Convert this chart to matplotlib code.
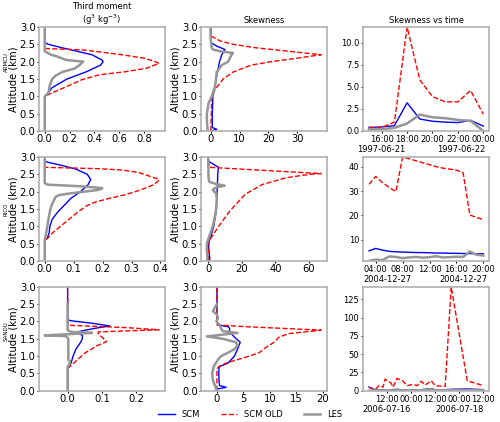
import numpy as np
import pandas as pd
import matplotlib
matplotlib.use('Agg')
import matplotlib.pyplot as plt
import matplotlib.dates as mdates

cases = ['ARMCU', 'RICO', 'SANDU']

# ---- ARMCU profiles (altitude km, value)
armcu_tm_scm_z = [0, 0.9, 1.0, 1.25, 1.5, 1.7, 1.9, 2.0, 2.05, 2.2, 2.3, 2.4, 2.5, 2.55, 3.0]
armcu_tm_scm = [0, 0, 0.005, 0.06, 0.18, 0.33, 0.45, 0.47, 0.46, 0.38, 0.26, 0.14, 0.03, 0, 0]
armcu_tm_old_z = [0, 1.0, 1.1, 1.27, 1.48, 1.62, 1.71, 1.81, 1.95, 2.0, 2.1, 2.2, 2.3, 2.34, 2.38, 3.0]
armcu_tm_old = [0, 0, 0.06, 0.17, 0.30, 0.44, 0.65, 0.82, 0.92, 0.89, 0.80, 0.62, 0.40, 0.30, 0, 0]
armcu_tm_les_z = [0, 1.0, 1.1, 1.3, 1.5, 1.6, 1.7, 1.8, 1.9, 2.0, 2.05, 2.15, 2.2, 2.28, 2.3, 3.0]
armcu_tm_les = [0, 0, 0.03, 0.04, 0.06, 0.09, 0.14, 0.24, 0.28, 0.31, 0.17, 0.1, 0.05, 0.01, 0, 0]

armcu_sk_scm_z = [0, 0.05, 0.1, 0.5, 1.0, 1.25, 1.5, 1.7, 2.0, 2.2, 2.35, 2.45, 2.55, 3.0]
armcu_sk_scm = [0.3, 2.0, 0.5, 0.5, 0.7, 1.4, 1.8, 2.3, 3.0, 3.8, 4.9, 2.0, 0, 0]
armcu_sk_old_z = [0, 1.0, 1.2, 1.5, 1.7, 1.9, 2.0, 2.1, 2.2, 2.3, 2.4, 2.5, 2.6, 2.7, 2.75, 3.0]
armcu_sk_old = [0, 0.3, 1.5, 4.3, 7.7, 14, 21, 30, 38.4, 27, 15.7, 7.7, 3.2, 0.9, 0, 0]
armcu_sk_les_z = [0, 0.3, 0.5, 0.8, 1.0, 1.3, 1.5, 1.7, 1.9, 2.0, 2.1, 2.2, 2.25, 2.3, 2.35, 2.4, 2.6, 3.0]
armcu_sk_les = [-1.1, -1.4, -1.4, -0.8, 0.3, 1.5, 1.8, 2.0, 3.8, 6.0, 6.6, 7.2, 7.7, 3.2, 0.7, 0.3, 0, -0.2]

# ---- RICO profiles
rico_tm_scm_z = [0, 0.6, 0.65, 0.8, 1.0, 1.2, 1.4, 1.6, 1.8, 2.0, 2.2, 2.35, 2.5, 2.65, 2.75, 2.85, 2.88, 3.0]
rico_tm_scm = [0, 0, 0.009, 0.015, 0.018, 0.026, 0.044, 0.067, 0.09, 0.124, 0.15, 0.159, 0.147, 0.107, 0.061, 0.009, 0, 0]
rico_tm_old_z = [0, 0.6, 0.65, 0.8, 1.0, 1.2, 1.4, 1.6, 1.7, 1.8, 1.9, 2.0, 2.1, 2.2, 2.3, 2.35, 2.45, 2.55, 2.62, 2.66, 2.7, 3.0]
rico_tm_old = [0, 0, 0.01, 0.026, 0.055, 0.084, 0.113, 0.147, 0.176, 0.222, 0.274, 0.314, 0.348, 0.377, 0.392, 0.395, 0.36, 0.325, 0.27, 0.19, 0, 0]
rico_tm_les_z = [0, 0.6, 0.7, 1.0, 1.3, 1.5, 1.65, 1.75, 1.85, 1.9, 1.95, 2.0, 2.05, 2.1, 2.15, 2.2, 2.25, 3.0]
rico_tm_les = [0, 0, 0.003, 0.009, 0.015, 0.02, 0.026, 0.032, 0.038, 0.05, 0.09, 0.14, 0.187, 0.199, 0.13, 0.009, 0, 0]

rico_sk_scm_z = [0, 0.05, 0.3, 0.5, 0.7, 1.0, 1.3, 1.5, 2.0, 2.5, 2.7, 2.85, 2.9, 3.0]
rico_sk_scm = [0.6, 1.0, 0.4, 0, 1.6, 3.3, 4.3, 4.9, 5.3, 5.7, 6.1, 1.0, 0, 0]
rico_sk_old_z = [0, 0.58, 0.96, 1.44, 1.92, 2.2, 2.4, 2.5, 2.52, 2.7, 3.0]
rico_sk_old = [0, 0.6, 5.7, 12.9, 22, 32, 46.5, 60.8, 67.3, 0.6, 0]
rico_sk_les_z = [0, 0.3, 0.5, 0.7, 1.0, 1.3, 1.5, 1.8, 1.95, 2.05, 2.12, 2.17, 2.22, 2.28, 2.4, 3.0]
rico_sk_les = [-0.4, -0.8, -0.8, 0.6, 2.7, 4.1, 4.7, 5.1, 4.7, 2.7, 4.7, 9.8, 4.7, 0.6, 0.2, 0]

# ---- SANDU profiles
sandu_tm_scm_z = [0, 0.65, 0.7, 0.8, 1.0, 1.2, 1.4, 1.5, 1.6, 1.65, 1.7, 1.75, 1.82, 1.87, 1.95, 2.02, 2.05, 3.0]
sandu_tm_scm = [0, 0, 0.005, 0.01, 0.016, 0.024, 0.038, 0.043, 0.043, 0.033, 0.029, 0.052, 0.09, 0.124, 0.071, 0.01, 0, 0]
sandu_tm_old_z = [0, 0.65, 0.7, 0.9, 1.1, 1.3, 1.42, 1.55, 1.65, 1.7, 1.76, 1.82, 1.89, 1.9, 3.0]
sandu_tm_old = [0, 0, 0.007, 0.029, 0.052, 0.086, 0.114, 0.1, 0.089, 0.09, 0.267, 0.176, 0.005, 0, 0]
sandu_tm_les_z = [0, 0.7, 0.75, 0.85, 0.9, 1.2, 1.5, 1.58, 1.6, 1.63, 1.67, 1.7, 1.75, 2.5]
sandu_tm_les = [0, 0, 0.005, 0.007, 0.002, 0.002, 0.002, -0.005, -0.067, -0.005, 0.071, 0.01, 0, 0]

sandu_sk_scm_z = [0, 0.05, 0.1, 0.15, 0.3, 0.5, 0.65, 0.7, 0.8, 1.0, 1.2, 1.4, 1.55, 1.7, 1.8, 1.85, 1.9, 2.0, 3.0]
sandu_sk_scm = [0, 0, 1.75, 0.5, 0.4, 0.35, 0.4, 0.5, 2.1, 3.3, 3.9, 4.4, 3.3, 2.4, 2.4, 2.1, 0.2, 0, 0]
sandu_sk_old_z = [0, 0.6, 0.65, 0.7, 0.8, 0.9, 1.0, 1.1, 1.25, 1.4, 1.55, 1.65, 1.75, 1.85, 1.9, 3.0]
sandu_sk_old = [0, 0, 0.1, 0.4, 1.75, 3.9, 6.1, 8.0, 9.25, 10.8, 11.75, 13.6, 19.7, 5.5, 0, 0]
sandu_sk_les_z = [0, 0.1, 0.3, 0.5, 0.7, 0.9, 1.0, 1.1, 1.2, 1.3, 1.4, 1.5, 1.57, 1.62, 1.67, 1.72, 1.8, 1.9, 2.0, 2.1, 2.2, 2.3, 2.4, 2.5]
sandu_sk_les = [0, -0.25, -0.75, -0.9, -0.6, 0.2, 0.8, 2.1, 3.3, 3.9, 3.6, 1.1, -1.9, 1.1, 3.9, 1.1, 0.8, 0.5, -0.1, 0.2, 0, -0.75, -0.4, 0]

# ---- skewness vs time
armcu_time = pd.date_range('1997-06-21 15:00', '1997-06-22 00:00', freq='h')
armcu_ts_scm = [0.4, 0.45, 0.6, 3.2, 1.35, 1.1, 1.0, 0.95, 1.2, 0.55]
armcu_ts_old = [0.4, 0.4, 1.0, 11.8, 5.8, 3.9, 3.3, 3.3, 4.6, 1.9]
armcu_ts_les = [0.2, 0.2, 0.35, 0.85, 1.85, 1.55, 1.45, 1.25, 1.15, 0.0]

rico_time = pd.date_range('2004-12-27 03:00', '2004-12-27 20:00', freq='h')
rico_ts_scm = [5.5, 6.5, 5.8, 5.3, 5.1, 5.0, 4.9, 4.8, 4.8, 4.7, 4.6, 4.6, 4.5, 4.5, 4.4, 4.4, 4.3, 4.3]
rico_ts_old = [32.8, 36.0, 33.5, 31.5, 29.8, 44.0, 43.2, 42.4, 41.6, 40.8, 40.0, 39.4, 39.0, 38.6, 37.5, 20.2, 19.2, 18.3]
rico_ts_les = [1.4, 1.9, 1.7, 3.2, 3.0, 2.5, 2.8, 3.0, 2.7, 2.9, 3.3, 2.8, 2.9, 3.1, 3.0, 5.2, 3.9, 3.6]

sandu_hours = [0, 3, 5, 7, 8, 11, 12, 14, 17, 19, 22, 24, 26, 28, 31, 33, 38, 41, 49, 57]
sandu_ts_scm = [5.0, 0.8, 1.0, 1.2, 1.0, 0.8, 1.5, 2.0, 1.0, 1.2, 1.0, 1.5, 1.3, 2.0, 3.0, 1.5, 1.5, 2.0, 2.5, 1.5]
sandu_ts_old = [5, 1.5, 7, 5, 16, 10.5, 5, 17, 13, 7, 8.7, 7, 13, 7.8, 13.7, 7, 6, 142, 13.7, 7]
sandu_ts_les = [0.0, 0.3, 0.5, 0.4, 0.6, 0.5, 0.4, 0.6, 0.5, 0.7, 0.5, 0.6, 0.8, 1.5, 2.0, 0.8, 0.6, 0.7, 0.9, 0.5]
sandu_time = pd.Timestamp('2006-07-16 03:00') + pd.to_timedelta(sandu_hours, unit='h')

tm_rows = [
    (armcu_tm_scm, armcu_tm_scm_z, armcu_tm_old, armcu_tm_old_z, armcu_tm_les, armcu_tm_les_z),
    (rico_tm_scm, rico_tm_scm_z, rico_tm_old, rico_tm_old_z, rico_tm_les, rico_tm_les_z),
    (sandu_tm_scm, sandu_tm_scm_z, sandu_tm_old, sandu_tm_old_z, sandu_tm_les, sandu_tm_les_z),
]
sk_rows = [
    (armcu_sk_scm, armcu_sk_scm_z, armcu_sk_old, armcu_sk_old_z, armcu_sk_les, armcu_sk_les_z),
    (rico_sk_scm, rico_sk_scm_z, rico_sk_old, rico_sk_old_z, rico_sk_les, rico_sk_les_z),
    (sandu_sk_scm, sandu_sk_scm_z, sandu_sk_old, sandu_sk_old_z, sandu_sk_les, sandu_sk_les_z),
]
ts_rows = [
    (armcu_time, armcu_ts_scm, armcu_ts_old, armcu_ts_les),
    (rico_time, rico_ts_scm, rico_ts_old, rico_ts_les),
    (sandu_time, sandu_ts_scm, sandu_ts_old, sandu_ts_les),
]

# tick setup of the time panels
hour_loc = [mdates.HourLocator(byhour=[0, 16, 18, 20, 22]),
            mdates.HourLocator(byhour=[4, 8, 12, 16, 20]),
            mdates.HourLocator(byhour=[0, 12])]
date_pos = [['1997-06-21 16:00', '1997-06-21 22:15'],
            ['2004-12-27 05:45', '2004-12-27 17:00'],
            ['2006-07-16 12:00', '2006-07-18 00:00']]
date_lab = [['1997-06-21', '1997-06-22'],
            ['2004-12-27', '2004-12-27'],
            ['2006-07-16', '2006-07-18']]
case_y = [0.66, 0.50, 0.57]

plt.rcParams['axes.edgecolor'] = '#b0b0b0'
plt.rcParams['axes.linewidth'] = 1.2

fig, axes = plt.subplots(3, 3, figsize=(5, 4.22), dpi=100)
plt.subplots_adjust(left=0.078, right=0.978, top=0.936, bottom=0.074, wspace=0.29, hspace=0.25)

scm_kw = dict(color='blue', lw=1.0)
old_kw = dict(color='red', lw=1.0, ls='--')
les_kw = dict(color='#969696', lw=1.8)

for i in range(3):
    for j, rows in enumerate([tm_rows, sk_rows]):
        ax = axes[i, j]
        s, sz, o, oz, l, lz = rows[i]
        ax.plot(s, sz, label='SCM', **scm_kw)
        ax.plot(o, oz, label='SCM OLD', **old_kw)
        ax.plot(l, lz, label='LES', **les_kw)
        ax.set_ylim(0, 3)
        ax.set_yticks(np.arange(0, 3.01, 0.5))
        ax.set_ylabel('Altitude (km)', fontsize=7.2, labelpad=1)
        ax.tick_params(labelsize=7.2, length=1.5, pad=1)
        if j == 0:
            ax.text(-0.262, case_y[i], cases[i], rotation=90, fontsize=4,
                    transform=ax.transAxes, ha='center', va='center')

    ax = axes[i, 2]
    t, s, o, l = ts_rows[i]
    ax.plot(t, s, **scm_kw)
    ax.plot(t, o, **old_kw)
    ax.plot(t, l, **les_kw)
    ax.margins(x=0.05, y=0)
    ax.xaxis.remove_overlapping_locs = False
    ax.xaxis.set_major_locator(hour_loc[i])
    ax.xaxis.set_major_formatter(mdates.DateFormatter('%H:%M'))
    ax.set_xticks([mdates.date2num(pd.Timestamp(d)) for d in date_pos[i]], labels=date_lab[i], minor=True)
    ax.tick_params(labelsize=6, length=1.5, pad=1.5)
    ax.tick_params(axis='x', which='minor', length=0, pad=10, labelsize=6)

axes[0, 0].set_title('Third moment\n(g$^3$ kg$^{-3}$)', fontsize=6, pad=2)
axes[0, 1].set_title('Skewness', fontsize=6, pad=3)
axes[0, 2].set_title('Skewness vs time', fontsize=6, pad=3)

axes[0, 0].set_xticks([0.0, 0.2, 0.4, 0.6, 0.8])
axes[1, 0].set_xticks([0.0, 0.1, 0.2, 0.3, 0.4])
axes[2, 0].set_xticks([0.0, 0.1, 0.2])
axes[0, 1].set_xticks([0, 10, 20, 30])
axes[1, 1].set_xticks([0, 20, 40, 60])
axes[2, 1].set_xticks([0, 5, 10, 15, 20])
axes[0, 2].set_yticks([0, 2.5, 5, 7.5, 10])
axes[1, 2].set_yticks([10, 20, 30, 40])
axes[2, 2].set_yticks([0, 25, 50, 75, 100, 125])

handles, labels = axes[0, 0].get_legend_handles_labels()
fig.legend(handles, labels, loc='lower center', bbox_to_anchor=(0.5, -0.01), ncol=3,
           frameon=False, fontsize=6, columnspacing=2.5)

fig.savefig('out.png', dpi=100)
